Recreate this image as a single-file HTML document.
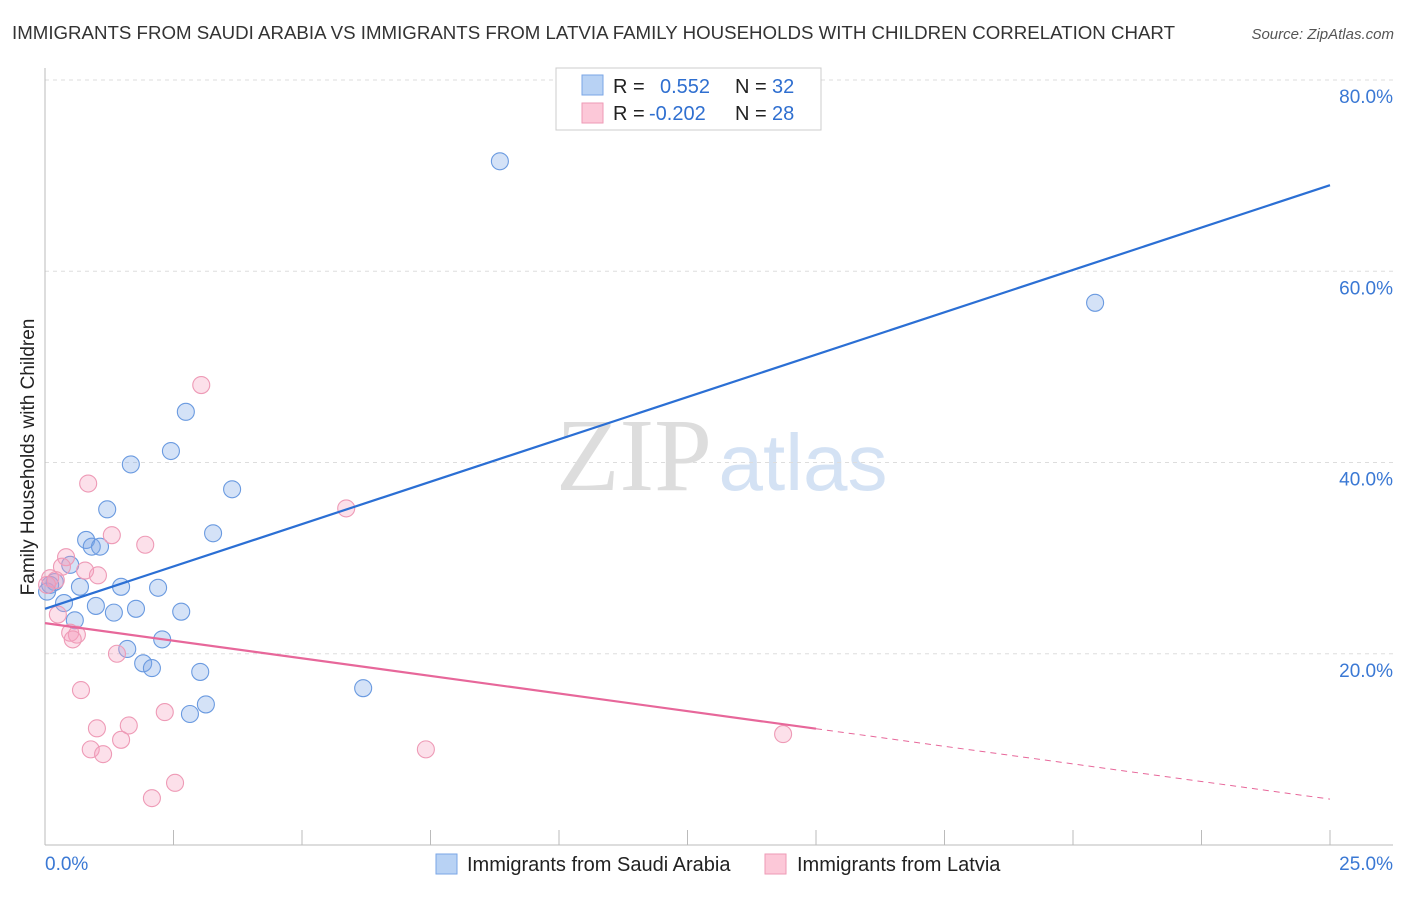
<!DOCTYPE html>
<html><head><meta charset="utf-8"><style>
body{margin:0;background:#fff;font-family:"Liberation Sans",sans-serif;}
svg text{font-family:"Liberation Sans",sans-serif;}
</style></head><body>
<svg id="chart" width="1406" height="892" xmlns="http://www.w3.org/2000/svg">
<text x="12" y="39" font-size="18" fill="#333" textLength="1163" lengthAdjust="spacingAndGlyphs">IMMIGRANTS FROM SAUDI ARABIA VS IMMIGRANTS FROM LATVIA FAMILY HOUSEHOLDS WITH CHILDREN CORRELATION CHART</text>
<text x="1394" y="39" font-size="15" fill="#555" font-style="italic" text-anchor="end">Source: ZipAtlas.com</text>
<g>
<text x="634" y="490" font-size="104" fill="#ddd" text-anchor="middle" style="font-family:'Liberation Serif',serif">ZIP</text>
<text x="803" y="490" font-size="80" fill="#d4e2f4" text-anchor="middle">atlas</text>
</g>
<g id="grid"></g>
<g id="axes"></g>
<g id="marks"></g>
<text transform="translate(34,457) rotate(-90)" font-size="19" fill="#222" text-anchor="middle">Family Households with Children</text>
<g>
<rect x="556" y="68" width="265" height="62" fill="#fff" stroke="#ccc"/>
<rect x="582" y="75" width="21" height="20" fill="#b8d2f4" stroke="#7aa6e6"/>
<rect x="582" y="103" width="21" height="20" fill="#fcc8d8" stroke="#ee9ab6"/>
<text x="613" y="93" font-size="20" fill="#222">R = </text><text x="660" y="93" font-size="20" fill="#2f6fd0">0.552</text>
<text x="735" y="93" font-size="20" fill="#222">N = </text><text x="772" y="93" font-size="20" fill="#2f6fd0">32</text>
<text x="613" y="120" font-size="20" fill="#222">R = </text><text x="649" y="120" font-size="20" fill="#2f6fd0">-0.202</text>
<text x="735" y="120" font-size="20" fill="#222">N = </text><text x="772" y="120" font-size="20" fill="#2f6fd0">28</text>
</g>
<g>
<rect x="436" y="854" width="21" height="20" fill="#b8d2f4" stroke="#7aa6e6"/>
<text x="467" y="871" font-size="20" fill="#222">Immigrants from Saudi Arabia</text>
<rect x="765" y="854" width="21" height="20" fill="#fcc8d8" stroke="#ee9ab6"/>
<text x="797" y="871" font-size="20" fill="#222">Immigrants from Latvia</text>
</g>
</svg>
<script>
const yTicks=[20,40,60,80];
const yTickLabels=["20.0%","40.0%","60.0%","80.0%"];
const xTickLabels=["0.0%","25.0%"];
const saudiX=[8.85,20.43,2.74,2.45,1.67,3.64,1.21,3.27,0.80,0.91,1.07,0.49,0.19,0.10,0.68,1.48,2.20,0.04,0.37,0.99,1.34,1.77,2.65,0.58,2.28,1.60,1.91,2.08,3.02,6.19,3.13,2.82];
const saudiY=[71.5,56.7,45.3,41.2,39.8,37.2,35.1,32.6,31.9,31.2,31.2,29.3,27.5,27.2,27.0,27.0,26.9,26.5,25.3,25.0,24.3,24.7,24.4,23.5,21.5,20.5,19.0,18.5,18.1,16.4,14.7,13.7];
const latviaX=[3.04,0.84,5.86,1.30,1.95,0.41,0.33,0.78,1.03,0.10,0.21,0.25,0.49,0.62,0.54,1.40,0.70,2.33,1.01,1.63,0.89,1.13,1.48,7.41,14.36,2.53,2.08,0.04];
const latviaY=[48.1,37.8,35.2,32.4,31.4,30.1,29.1,28.7,28.2,27.9,27.7,24.1,22.2,22.0,21.5,20.0,16.2,13.9,12.2,12.5,10.0,9.5,11.0,10.0,11.6,6.5,4.9,27.2];
const saudiTrend=[24.7,69.0];
const latviaTrend=[23.2,4.8];
const latviaSolidEnd=15.0;

const NS="http://www.w3.org/2000/svg";
const X0=45,X1=1330,Y0=845,PXY=191.25/20;
const xs=v=>X0+v*(X1-X0)/25;
const ys=v=>Y0-v*PXY;
function mk(tag,attrs,parent){const e=document.createElementNS(NS,tag);for(const k in attrs)e.setAttribute(k,attrs[k]);parent.appendChild(e);return e;}
const grid=document.getElementById('grid'),axes=document.getElementById('axes'),marks=document.getElementById('marks');
yTicks.forEach((t,i)=>{
 const l=mk('line',{x1:45,x2:1393,y1:ys(t),y2:ys(t),stroke:'#ddd','stroke-dasharray':'4,4'},grid);
 
 
 const tx=mk('text',{x:1393,y:ys(t)+23,'font-size':19,fill:'#3a78d4','text-anchor':'end'},axes);
 tx.textContent=yTickLabels[i];
 
 
});
let a=mk('line',{x1:45,x2:45,y1:68,y2:845,stroke:'#bbb'},axes);


a=mk('line',{x1:45,x2:1393,y1:845,y2:845,stroke:'#bbb'},axes);


for(let i=1;i<=10;i++){const t=mk('line',{x1:xs(i*2.5),x2:xs(i*2.5),y1:830,y2:845,stroke:'#bbb'},axes);
 
 }
let t0=mk('text',{x:45,y:870,'font-size':19,fill:'#3a78d4'},axes);t0.textContent=xTickLabels[0];


let t1=mk('text',{x:1393,y:870,'font-size':19,fill:'#3a78d4','text-anchor':'end'},axes);t1.textContent=xTickLabels[1];



saudiX.forEach((x,i)=>{const c=mk('circle',{cx:xs(x),cy:ys(saudiY[i]),r:8.5,fill:'rgba(120,165,230,0.32)',stroke:'#6a9ae0','stroke-width':1.1},marks);
 
 });
latviaX.forEach((x,i)=>{const c=mk('circle',{cx:xs(x),cy:ys(latviaY[i]),r:8.5,fill:'rgba(245,160,190,0.32)',stroke:'#ee9ab6','stroke-width':1.1},marks);
 
 });
const lerp=(tr,x)=>tr[0]+(tr[1]-tr[0])*x/25;
let tl=mk('line',{x1:xs(0),y1:ys(saudiTrend[0]),x2:xs(25),y2:ys(saudiTrend[1]),stroke:'#2b6fd4','stroke-width':2.2},marks);


tl=mk('line',{x1:xs(0),y1:ys(latviaTrend[0]),x2:xs(latviaSolidEnd),y2:ys(lerp(latviaTrend,latviaSolidEnd)),stroke:'#e7679a','stroke-width':2.2},marks);


tl=mk('line',{x1:xs(latviaSolidEnd),y1:ys(lerp(latviaTrend,latviaSolidEnd)),x2:xs(25),y2:ys(latviaTrend[1]),stroke:'#e7679a','stroke-width':1,'stroke-dasharray':'6,5'},marks);


</script>
</body></html>
